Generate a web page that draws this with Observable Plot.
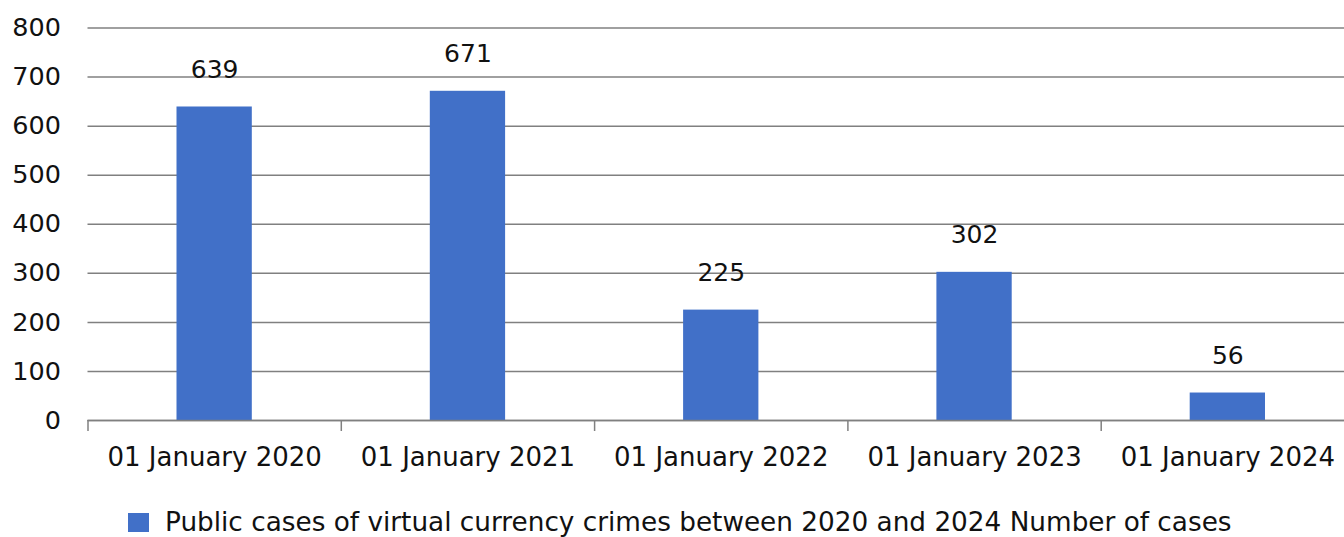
<!DOCTYPE html>
<html>
<head>
<meta charset="utf-8">
<script src="https://cdn.jsdelivr.net/npm/d3@7"></script>
<script src="https://cdn.jsdelivr.net/npm/@observablehq/plot@0.6"></script>
<style>
  html, body { margin: 0; padding: 0; background: #fff; overflow: hidden; }
  body { width: 1344px; height: 537px; font-family: "DejaVu Sans", sans-serif; color: #111; position: relative; }
  #legend { position: absolute; left: 128px; top: 507px; height: 30px; display: flex; align-items: center; font-size: 26.3px; line-height: 30px; white-space: nowrap; }
  #legend .sw { width: 21px; height: 19px; background: #4170C8; margin-right: 16px; }
</style>
</head>
<body>
<div id="chart"></div>
<div id="legend"><span class="sw"></span><span id="legend-text"></span></div>
<script>
const categories = ["01 January 2020", "01 January 2021", "01 January 2022", "01 January 2023", "01 January 2024"];
const values = [639, 671, 225, 302, 56];
const yTicks = [0, 100, 200, 300, 400, 500, 600, 700, 800];
const seriesName = "Public cases of virtual currency crimes between 2020 and 2024 Number of cases";

const data = categories.map((c, i) => ({category: c, i, value: values[i]}));
const boundaries = d3.range(categories.length + 1);
const centers = categories.map((c, i) => i + 0.5);
const barColor = "#4170C8";

const chart = Plot.plot({
  width: 1344,
  height: 490,
  marginLeft: 87.5,
  marginRight: -10,
  marginTop: 27.5,
  marginBottom: 70,
  style: {fontFamily: "'DejaVu Sans', sans-serif", color: "#111", background: "#fff"},
  x: {domain: [0, categories.length], axis: null, label: null},
  y: {domain: [0, 800], axis: null, label: null},
  marks: [
    Plot.gridY(yTicks, {stroke: "#808080", strokeOpacity: 1, strokeWidth: 1.5}),
    Plot.axisY(yTicks, {tickSize: 0, tickPadding: 27, fontSize: 25.5, textAnchor: "end", fill: "#111", label: null}),
    Plot.rectY(data, {x1: d => d.i, x2: d => d.i + 1, y: "value", fill: barColor, insetLeft: 89, insetRight: 89}),
    Plot.ruleY([0], {stroke: "#808080", strokeWidth: 1.5}),
    Plot.axisX(boundaries, {tickSize: 11, tickFormat: () => "", stroke: "#808080", strokeWidth: 1.5, strokeOpacity: 1, label: null}),
    Plot.axisX(centers, {tickSize: 0, tickPadding: 27, fontSize: 26, fill: "#111", label: null, tickFormat: v => categories[Math.round(v - 0.5)]}),
    Plot.text(data, {x: d => d.i + 0.5, y: "value", text: d => String(d.value), dy: -37, fontSize: 25, fill: "#111"})
  ]
});
document.getElementById("chart").appendChild(chart);
document.getElementById("legend-text").textContent = seriesName;
</script>
</body>
</html>
